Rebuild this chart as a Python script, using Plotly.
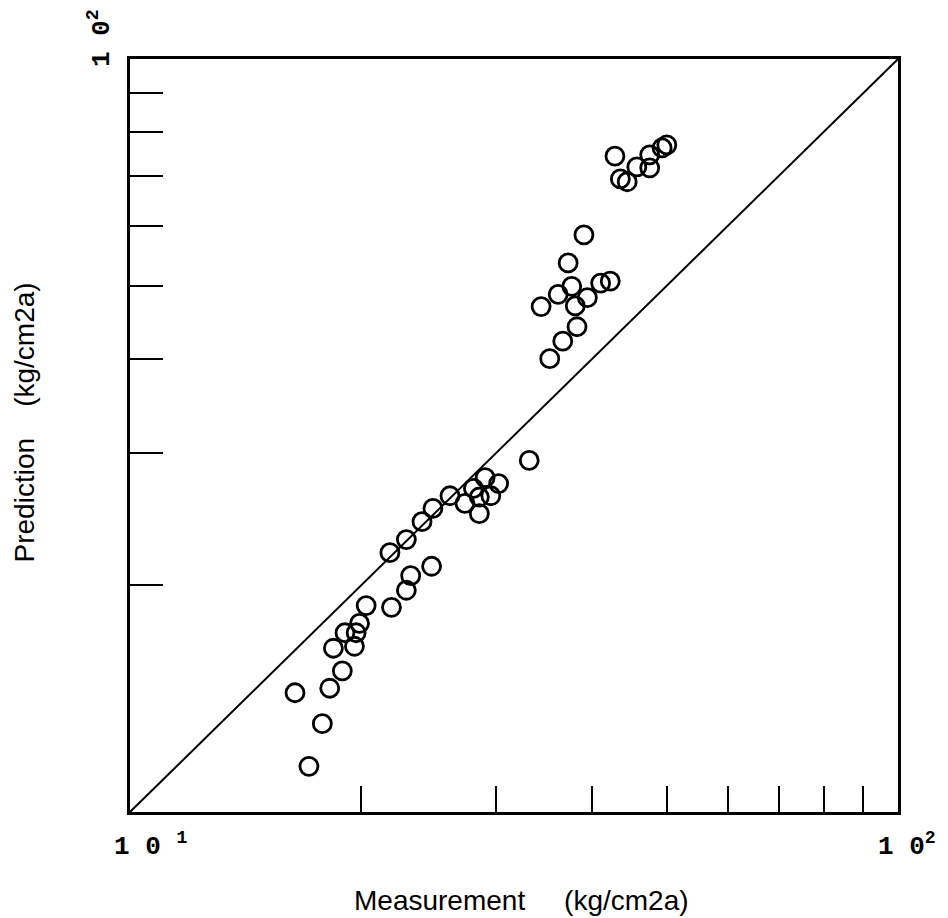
import plotly.graph_objects as go

measurement = [33.1, 29.0, 30.2, 28.0, 26.1, 27.3, 28.5, 29.5, 28.5, 24.8,
               24.0, 22.9, 21.8, 24.7, 23.2, 22.9, 21.9, 20.3, 19.9, 19.7,
               19.05, 19.6, 18.4, 18.9, 18.2, 16.4, 17.8, 17.1,
               39.0, 37.2, 41.0, 42.2, 37.6, 36.1, 39.4, 34.3, 38.0, 38.2,
               36.6, 35.2,
               42.8, 43.5, 44.4, 45.7, 47.5, 47.5, 49.3, 50.0]
prediction = [29.3, 27.8, 27.3, 26.9, 26.3, 25.7, 26.2, 26.3, 24.9, 25.3,
              24.3, 23.0, 22.1, 21.2, 20.6, 19.7, 18.7, 18.8, 17.8, 17.3,
              17.3, 16.6, 16.5, 15.4, 14.6, 14.4, 13.1, 11.5,
              58.4, 53.6, 50.4, 50.7, 49.9, 48.7, 48.2, 46.9, 47.0, 44.1,
              42.2, 40.0,
              74.3, 69.3, 68.7, 71.9, 74.6, 71.7, 76.2, 76.9]

line_x = [10, 100]
line_y = [10, 100]
minor_ticks = [20, 30, 40, 50, 60, 70, 80, 90]

fig = go.Figure()
fig.add_trace(go.Scatter(x=line_x, y=line_y, mode="lines",
                         line=dict(color="black", width=2), showlegend=False))
fig.add_trace(go.Scatter(x=measurement, y=prediction, mode="markers",
                         marker=dict(symbol="circle-open", size=18, color="black",
                                     line=dict(width=2.8, color="black")),
                         showlegend=False))

fig.update_layout(
    width=940, height=910,
    margin=dict(l=122, r=50, t=51, b=106),
    paper_bgcolor="white", plot_bgcolor="white",
    xaxis=dict(type="log", range=[1, 2], tickvals=minor_ticks, ticks="inside",
               ticklen=26, tickwidth=2, tickcolor="black", showticklabels=False,
               showline=True, linewidth=2.5, linecolor="black", mirror=True,
               showgrid=False, zeroline=False),
    yaxis=dict(type="log", range=[1, 2], tickvals=minor_ticks, ticks="inside",
               ticklen=33, tickwidth=2, tickcolor="black", showticklabels=False,
               showline=True, linewidth=2.5, linecolor="black", mirror=True,
               showgrid=False, zeroline=False),
)

mono = dict(family="Liberation Mono", size=26, color="black")
sans = dict(family="Liberation Sans", size=28, color="black")
fig.add_annotation(text="<b>1 0 <sup>1</sup></b>", xref="paper", yref="paper",
                   x=-0.024, y=-0.044, xanchor="left", yanchor="middle",
                   showarrow=False, font=mono)
fig.add_annotation(text="<b>1 0<sup>2</sup></b>", xref="paper", yref="paper",
                   x=0.972, y=-0.044, xanchor="left", yanchor="middle",
                   showarrow=False, font=mono)
fig.add_annotation(text="<b>1 0<sup>2</sup></b>", xref="paper", yref="paper",
                   x=-0.039, y=1.028, xanchor="center", yanchor="middle",
                   textangle=-90, showarrow=False, font=mono)
fig.add_annotation(text="Measurement\u00a0\u00a0\u00a0\u00a0\u00a0(kg/cm2a)",
                   xref="paper", yref="paper", x=0.51, y=-0.117,
                   xanchor="center", yanchor="middle", showarrow=False, font=sans)
fig.add_annotation(text="Prediction\u00a0\u00a0\u00a0\u00a0(kg/cm2a)",
                   xref="paper", yref="paper", x=-0.137, y=0.517,
                   xanchor="center", yanchor="middle", textangle=-90,
                   showarrow=False, font=sans)

fig.write_html("out.html")
